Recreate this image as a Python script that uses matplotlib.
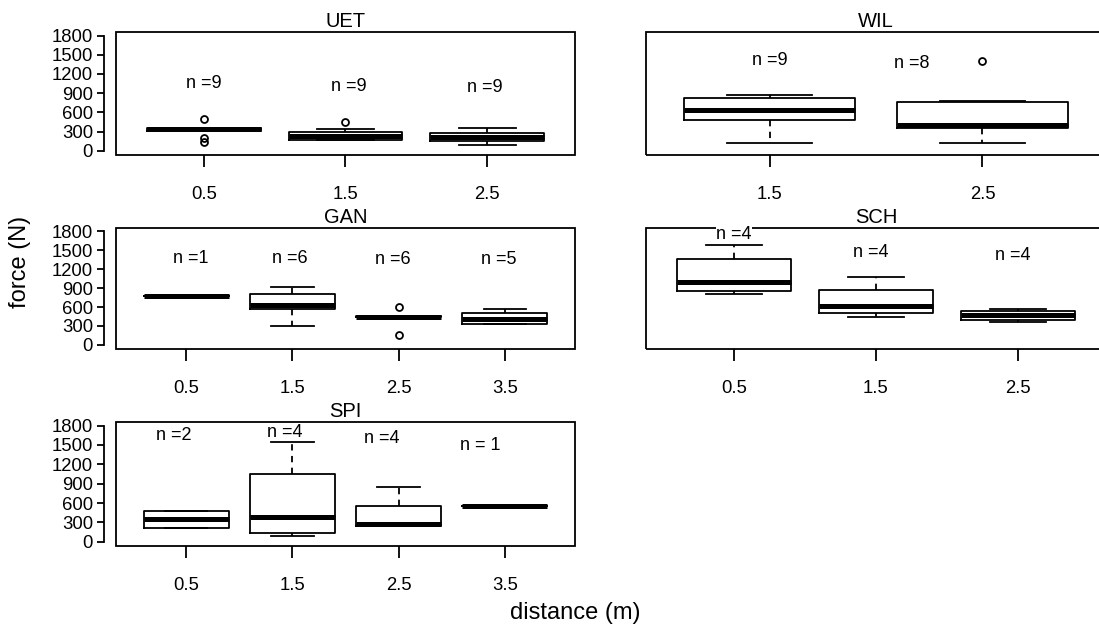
import matplotlib
matplotlib.use("Agg")
import matplotlib.pyplot as plt
from matplotlib.patches import Rectangle
from matplotlib.transforms import offset_copy

plt.rcParams['font.family'] = ['Liberation Sans', 'DejaVu Sans']

# ---------------- data: five-number summaries per site and distance ----------------
UET_dist = [0.5, 1.5, 2.5]
UET_whislo = [315, 165, 90]
UET_q1 = [315, 175, 160]
UET_med = [335, 235, 220]
UET_q3 = [350, 290, 285]
UET_whishi = [350, 340, 355]
UET_fliers = [[145, 200, 490], [455], []]
UET_labels = ["n =9", "n =9", "n =9"]
UET_label_x = [0.5, 1.52, 2.48]
UET_label_y = [1055, 1005, 990]

WIL_dist = [1.5, 2.5]
WIL_whislo = [115, 115]
WIL_q1 = [485, 362]
WIL_med = [635, 402]
WIL_q3 = [820, 760]
WIL_whishi = [875, 775]
WIL_fliers = [[], [1405]]
WIL_labels = ["n =9", "n =8"]
WIL_label_x = [1.5, 2.17]
WIL_label_y = [1405, 1360]

GAN_dist = [0.5, 1.5, 2.5, 3.5]
GAN_whislo = [780, 300, 445, 330]
GAN_q1 = [780, 575, 445, 330]
GAN_med = [780, 640, 450, 415]
GAN_q3 = [780, 805, 460, 510]
GAN_whishi = [780, 920, 460, 565]
GAN_fliers = [[], [], [155, 595], []]
GAN_labels = ["n =1", "n =6", "n =6", "n =5"]
GAN_label_x = [0.54, 1.48, 2.45, 3.44]
GAN_label_y = [1375, 1375, 1350, 1350]

SCH_dist = [0.5, 1.5, 2.5]
SCH_whislo = [815, 450, 365]
SCH_q1 = [855, 505, 390]
SCH_med = [1000, 610, 482]
SCH_q3 = [1365, 865, 545]
SCH_whishi = [1585, 1070, 572]
SCH_fliers = [[], [], []]
SCH_labels = ["n =4", "n =4", "n =4"]
SCH_label_x = [0.5, 1.46, 2.46]
SCH_label_y = [1755, 1470, 1420]

SPI_dist = [0.5, 1.5, 2.5, 3.5]
SPI_whislo = [220, 95, 240, 553]
SPI_q1 = [220, 140, 250, 553]
SPI_med = [350, 390, 270, 553]
SPI_q3 = [475, 1045, 555, 553]
SPI_whishi = [475, 1545, 850, 553]
SPI_fliers = [[], [], [], []]
SPI_labels = ["n =2", "n =4", "n =4", "n = 1"]
SPI_label_x = [0.38, 1.43, 2.34, 3.27]
SPI_label_y = [1640, 1700, 1605, 1485]

y_ticks = [0, 300, 600, 900, 1200, 1500, 1800]

# ---------------- figure layout (pixels) ----------------
W, H = 1099, 631
fig = plt.figure(figsize=(W / 100, H / 100), dpi=100)


def add_panel(x0, x1, y0, y1):
    return fig.add_axes([x0 / W, 1 - y1 / H, (x1 - x0) / W, (y1 - y0) / H])


LW = 1.3


def draw_panel(ax, title, dist, whislo, q1, med, q3, whishi, fliers,
               labels, label_x, label_y, xlim, show_y):
    stats = [dict(whislo=a, q1=b, med=c, q3=d, whishi=e, fliers=f)
             for a, b, c, d, e, f in zip(whislo, q1, med, q3, whishi, fliers)]
    ax.bxp(stats, positions=dist, widths=0.8, manage_ticks=False,
           boxprops=dict(color='black', linewidth=LW),
           whiskerprops=dict(color='black', linewidth=LW, linestyle=(0, (3.5, 3))),
           capprops=dict(color='black', linewidth=LW),
           medianprops=dict(color='black', linewidth=3.6, solid_capstyle='butt'),
           flierprops=dict(marker='o', markerfacecolor='none', markeredgecolor='black',
                           markersize=5, markeredgewidth=LW))
    ax.set_xlim(*xlim)
    ax.set_ylim(-65, 1855)
    ax.set_xticks(dist)
    ax.set_xticklabels([f"{d:g}" for d in dist])
    for s in ax.spines.values():
        s.set_visible(False)
    ax.add_patch(Rectangle((0, 0), 1, 1, transform=ax.transAxes, fill=False,
                           linewidth=LW, edgecolor='black', clip_on=False, zorder=4))
    ax.tick_params(axis='x', direction='out', length=8.6, width=LW, pad=14,
                   labelsize=13.3, colors='black')
    if show_y:
        sp = ax.spines['left']
        sp.set_visible(True)
        sp.set_position(('outward', 8.6))
        sp.set_bounds(0, 1800)
        sp.set_linewidth(LW)
        ax.set_yticks(y_ticks)
        ax.tick_params(axis='y', direction='out', length=5, width=LW, pad=3,
                       labelsize=13.3, colors='black')
    else:
        ax.set_yticks([])
    ax.text(0.5, 1, title, transform=offset_copy(ax.transAxes, fig=fig, x=0, y=5, units='dots'),
            ha='center', va='baseline', fontsize=14.5)
    for x, y, t in zip(label_x, label_y, labels):
        ax.text(x, y, t, ha='center', va='center', fontsize=13, zorder=6,
                bbox=dict(facecolor='white', edgecolor='none', pad=0))


ax_uet = add_panel(116, 575, 32, 155)
ax_wil = add_panel(646, 1106, 32, 155)
ax_gan = add_panel(116, 575, 228, 349)
ax_sch = add_panel(646, 1106, 228, 349)
ax_spi = add_panel(116, 575, 422, 546)

draw_panel(ax_uet, "UET", UET_dist, UET_whislo, UET_q1, UET_med, UET_q3, UET_whishi,
           UET_fliers, UET_labels, UET_label_x, UET_label_y, (-0.12, 3.12), True)
draw_panel(ax_wil, "WIL", WIL_dist, WIL_whislo, WIL_q1, WIL_med, WIL_q3, WIL_whishi,
           WIL_fliers, WIL_labels, WIL_label_x, WIL_label_y, (0.92, 3.08), False)
draw_panel(ax_gan, "GAN", GAN_dist, GAN_whislo, GAN_q1, GAN_med, GAN_q3, GAN_whishi,
           GAN_fliers, GAN_labels, GAN_label_x, GAN_label_y, (-0.16, 4.16), True)
draw_panel(ax_sch, "SCH", SCH_dist, SCH_whislo, SCH_q1, SCH_med, SCH_q3, SCH_whishi,
           SCH_fliers, SCH_labels, SCH_label_x, SCH_label_y, (-0.12, 3.12), False)
draw_panel(ax_spi, "SPI", SPI_dist, SPI_whislo, SPI_q1, SPI_med, SPI_q3, SPI_whishi,
           SPI_fliers, SPI_labels, SPI_label_x, SPI_label_y, (-0.16, 4.16), True)

fig.text(575 / W, 1 - 613 / H, "distance (m)", ha='center', va='center', fontsize=17)
fig.text(20 / W, 1 - 262 / H, "force (N)", ha='center', va='center', rotation=90, fontsize=17)

fig.savefig("out.png", dpi=100, facecolor='white')
